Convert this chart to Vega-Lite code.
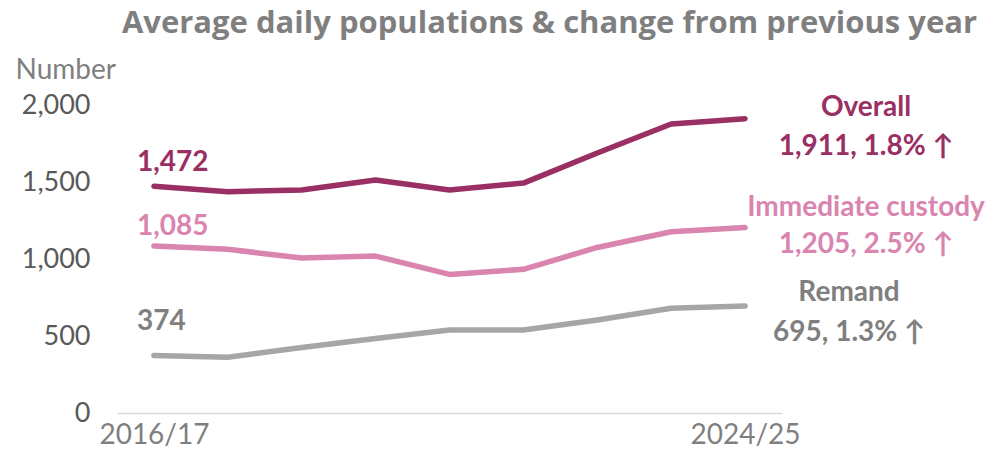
{
  "$schema": "https://vega.github.io/schema/vega-lite/v6.json",
  "width": 665,
  "height": 308,
  "autosize": {"type": "none"},
  "padding": {"left": 117, "top": 105, "right": 212, "bottom": 49},
  "background": "white",
  "view": {"stroke": null},
  "title": {
    "text": "Average daily populations & change from previous year",
    "font": "Open Sans",
    "fontSize": 31,
    "fontWeight": "bold",
    "color": "#7F7F7F",
    "anchor": "middle",
    "frame": "group",
    "dx": 100,
    "offset": 16
  },
  "datasets": {
    "pop": [
      {"year": "2016/17", "series": "Overall", "value": 1472},
      {"year": "2017/18", "series": "Overall", "value": 1437},
      {"year": "2018/19", "series": "Overall", "value": 1448},
      {"year": "2019/20", "series": "Overall", "value": 1513},
      {"year": "2020/21", "series": "Overall", "value": 1448},
      {"year": "2021/22", "series": "Overall", "value": 1493},
      {"year": "2022/23", "series": "Overall", "value": 1688},
      {"year": "2023/24", "series": "Overall", "value": 1877},
      {"year": "2024/25", "series": "Overall", "value": 1911},
      {"year": "2016/17", "series": "Immediate custody", "value": 1085},
      {"year": "2017/18", "series": "Immediate custody", "value": 1063},
      {"year": "2018/19", "series": "Immediate custody", "value": 1006},
      {"year": "2019/20", "series": "Immediate custody", "value": 1019},
      {"year": "2020/21", "series": "Immediate custody", "value": 900},
      {"year": "2021/22", "series": "Immediate custody", "value": 933},
      {"year": "2022/23", "series": "Immediate custody", "value": 1075},
      {"year": "2023/24", "series": "Immediate custody", "value": 1177},
      {"year": "2024/25", "series": "Immediate custody", "value": 1205},
      {"year": "2016/17", "series": "Remand", "value": 374},
      {"year": "2017/18", "series": "Remand", "value": 362},
      {"year": "2018/19", "series": "Remand", "value": 425},
      {"year": "2019/20", "series": "Remand", "value": 484},
      {"year": "2020/21", "series": "Remand", "value": 539},
      {"year": "2021/22", "series": "Remand", "value": 539},
      {"year": "2022/23", "series": "Remand", "value": 604},
      {"year": "2023/24", "series": "Remand", "value": 680},
      {"year": "2024/25", "series": "Remand", "value": 695}
    ],
    "startLabels": [
      {"year": "2016/17", "series": "Overall", "value": 1623, "label": "1,472"},
      {"year": "2016/17", "series": "Immediate custody", "value": 1208, "label": "1,085"},
      {"year": "2016/17", "series": "Remand", "value": 591, "label": "374"}
    ],
    "endLabels": [
      {"year": "2024/25", "series": "Overall", "value": 1980, "label": "Overall"},
      {"year": "2024/25", "series": "Overall", "value": 1727, "label": "1,911, 1.8% ↑"},
      {"year": "2024/25", "series": "Immediate custody", "value": 1331, "label": "Immediate custody"},
      {"year": "2024/25", "series": "Immediate custody", "value": 1091, "label": "1,205, 2.5% ↑"}
    ],
    "endLabels2": [
      {"year": "2024/25", "series": "Remand", "value": 779, "label": "Remand"},
      {"year": "2024/25", "series": "Remand", "value": 519, "label": "695, 1.3% ↑"}
    ]
  },
  "encoding": {
    "x": {
      "field": "year",
      "type": "ordinal",
      "scale": {"type": "point", "padding": 0.5},
      "axis": {
        "title": null,
        "ticks": false,
        "labelAngle": 0,
        "labelExpr": "datum.value == '2016/17' || datum.value == '2024/25' ? datum.label : ''",
        "labelFont": "Lato",
        "labelFontSize": 28,
        "labelColor": "#7F7F7F",
        "labelPadding": 8,
        "domainColor": "#D9D9D9",
        "domainWidth": 1.5,
        "grid": false
      }
    },
    "y": {
      "field": "value",
      "type": "quantitative",
      "scale": {"domain": [0, 2000], "nice": false},
      "axis": {
        "title": "Number",
        "titleAngle": 0,
        "titleAlign": "left",
        "titleBaseline": "middle",
        "titleX": -102,
        "titleY": -35,
        "titleFont": "Lato",
        "titleFontSize": 28,
        "titleFontWeight": "normal",
        "titleColor": "#7F7F7F",
        "values": [0, 500, 1000, 1500, 2000],
        "format": ",.0f",
        "ticks": false,
        "domain": false,
        "grid": false,
        "labelFont": "Lato",
        "labelFontSize": 27,
        "labelColor": "#595959",
        "labelPadding": 27
      }
    },
    "color": {
      "field": "series",
      "type": "nominal",
      "scale": {
        "domain": ["Overall", "Immediate custody", "Remand"],
        "range": ["#992F63", "#D985B0", "#A6A6A6"]
      },
      "legend": null
    }
  },
  "layer": [
    {
      "data": {"name": "pop"},
      "mark": {"type": "line", "strokeWidth": 5.5, "strokeCap": "round", "strokeJoin": "round"}
    },
    {
      "data": {"name": "startLabels"},
      "mark": {"type": "text", "align": "left", "baseline": "middle", "dx": -17, "font": "Lato", "fontSize": 28, "fontWeight": "bold"},
      "encoding": {
        "text": {"field": "label"},
        "color": {"condition": {"test": "datum.series == 'Remand'", "value": "#7F7F7F"}, "field": "series", "type": "nominal"}
      }
    },
    {
      "data": {"name": "endLabels"},
      "mark": {"type": "text", "align": "center", "baseline": "middle", "dx": 121, "font": "Lato", "fontSize": 28, "fontWeight": "bold"},
      "encoding": {"text": {"field": "label"}}
    },
    {
      "data": {"name": "endLabels2"},
      "mark": {"type": "text", "align": "center", "baseline": "middle", "dx": 104, "font": "Lato", "fontSize": 28, "fontWeight": "bold"},
      "encoding": {"text": {"field": "label"}, "color": {"value": "#7F7F7F"}}
    }
  ]
}
